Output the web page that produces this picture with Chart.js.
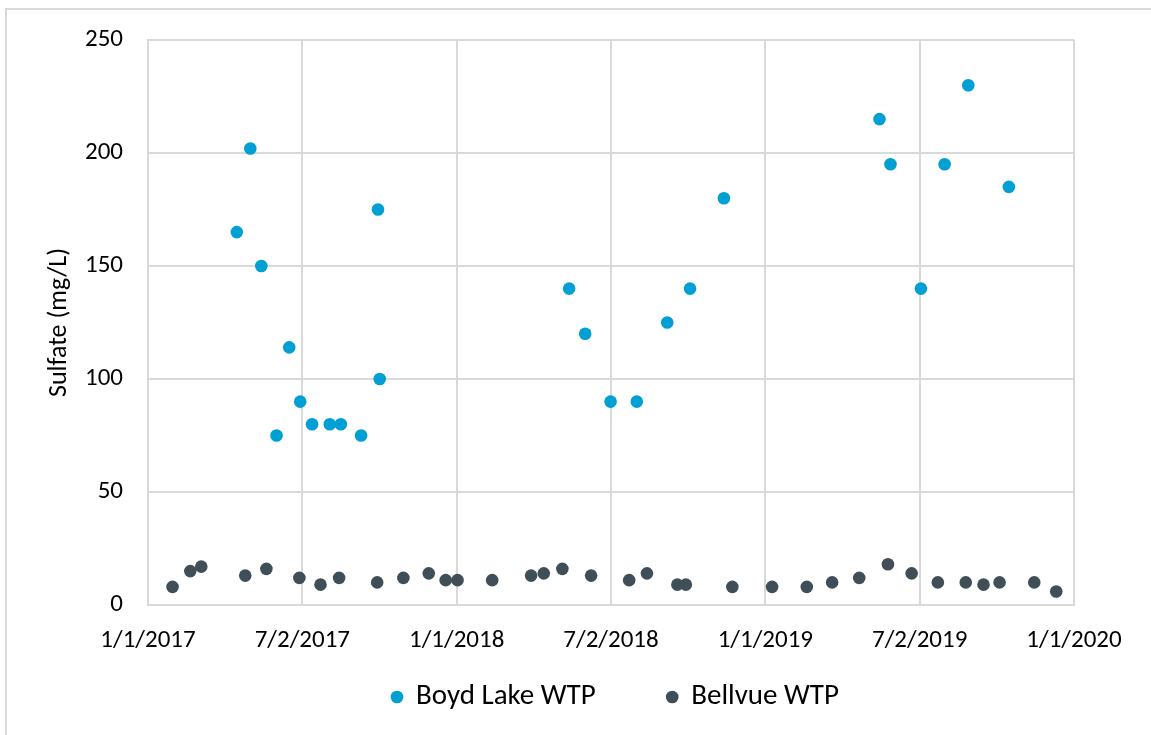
<!DOCTYPE html>
<html>
<head>
<meta charset="utf-8">
<script src="https://cdn.jsdelivr.net/npm/chart.js@4/dist/chart.umd.min.js"></script>
<style>
  html, body { margin: 0; padding: 0; background: #ffffff; overflow: hidden; }
  #frame { position: absolute; left: 5px; top: 8px; width: 1200px; height: 800px; border: 2px solid #d9d9d9; }
  #wrap { position: absolute; left: 0; top: 0; width: 1151px; height: 735px; }
</style>
</head>
<body>
<div id="frame"></div>
<div id="wrap"><canvas id="c" width="1151" height="735"></canvas></div>
<script>
// ---- Data ----
const seriesNames = ['Boyd Lake WTP', 'Bellvue WTP'];

const boydDates = [
  '2017-04-16','2017-05-02','2017-05-15','2017-06-02','2017-06-17','2017-06-30',
  '2017-07-14','2017-08-04','2017-08-17','2017-09-10','2017-09-30','2017-10-02',
  '2018-05-14','2018-06-02','2018-07-02','2018-08-02','2018-09-07','2018-10-04','2018-11-13',
  '2019-05-16','2019-05-29','2019-07-04','2019-08-01','2019-08-29','2019-10-16'
];
const boydValues = [
  165, 202, 150, 75, 114, 90,
  80, 80, 80, 75, 175, 100,
  140, 120, 90, 90, 125, 140, 180,
  215, 195, 140, 195, 230, 185
];

const bellvueDates = [
  '2017-01-30','2017-02-20','2017-03-05','2017-04-26','2017-05-21','2017-06-29',
  '2017-07-24','2017-08-15','2017-09-29','2017-10-30','2017-11-29','2017-12-19',
  '2018-01-02','2018-02-12','2018-03-30','2018-04-14','2018-05-06','2018-06-09',
  '2018-07-24','2018-08-14','2018-09-19','2018-09-29','2018-11-23',
  '2019-01-09','2019-02-19','2019-03-21','2019-04-22','2019-05-26','2019-06-23',
  '2019-07-24','2019-08-26','2019-09-16','2019-10-05','2019-11-15','2019-12-11'
];
const bellvueValues = [
  8, 15, 17, 13, 16, 12,
  9, 12, 10, 12, 14, 11,
  11, 11, 13, 14, 16, 13,
  11, 14, 9, 9, 8,
  8, 8, 10, 12, 18, 14,
  10, 10, 9, 10, 10, 6
];

const xTickLabels = ['1/1/2017','7/2/2017','1/1/2018','7/2/2018','1/1/2019','7/2/2019','1/1/2020'];
const yTickLabels = ['0','50','100','150','200','250'];
const yTitle = 'Sulfate (mg/L)';

// ---- Helpers ----
const DAY0 = Date.UTC(2017, 0, 1);
function dayOffset(s) {
  const p = s.split('-').map(Number);
  return (Date.UTC(p[0], p[1] - 1, p[2]) - DAY0) / 86400000;
}
function toPoints(dates, values) {
  return dates.map((d, i) => ({ x: dayOffset(d), y: values[i] }));
}

const FONT = 'Carlito, Lato, sans-serif';
const GRID = '#d9d9d9';
const LEG_PAD = 72;
const LEG_BOX = 9;

// Keeps the legend compact vertically and places its row like the original.
const legendPlacer = {
  id: 'legendPlacer',
  beforeLayout(chart) {
    const lg = chart.legend;
    if (lg && !lg._patched) {
      const origFit = lg.fit;
      lg.fit = function () { origFit.call(this); this.height = 60; };
      lg._patched = true;
    }
  },
  afterLayout(chart) {
    const lg = chart.legend;
    if (!lg || !lg.legendHitBoxes || !lg.legendHitBoxes.length) return;
    const itemH = lg.legendHitBoxes[0].height;
    const targetCenterY = 697;
    lg.top = targetCenterY - LEG_PAD - itemH / 2;
    lg.bottom = chart.height + 100;
    lg.height = lg.bottom - lg.top;
    const startX = (lg.left + LEG_PAD + lg.right - lg.lineWidths[0]) / 2;
    const targetStartX = 397 - LEG_BOX / 2;
    const dx = targetStartX - startX;
    lg.left += dx; lg.right += dx;
  }
};

new Chart(document.getElementById('c'), {
  type: 'scatter',
  data: {
    datasets: [
      {
        label: seriesNames[0],
        data: toPoints(boydDates, boydValues),
        backgroundColor: '#009fd4',
        borderColor: '#009fd4',
        pointRadius: 6.3,
        pointHoverRadius: 6.3,
        borderWidth: 0
      },
      {
        label: seriesNames[1],
        data: toPoints(bellvueDates, bellvueValues),
        backgroundColor: '#404e58',
        borderColor: '#404e58',
        pointRadius: 6.3,
        pointHoverRadius: 6.3,
        borderWidth: 0
      }
    ]
  },
  plugins: [legendPlacer],
  options: {
    responsive: false,
    animation: false,
    events: [],
    layout: { padding: { top: 39, right: 77, bottom: 0, left: 0 } },
    plugins: {
      tooltip: { enabled: false },
      legend: {
        position: 'bottom',
        labels: {
          usePointStyle: true,
          pointStyle: 'circle',
          boxWidth: LEG_BOX,
          boxHeight: LEG_BOX,
          padding: LEG_PAD,
          color: '#000000',
          font: { family: FONT, size: 29 }
        }
      }
    },
    scales: {
      x: {
        type: 'linear',
        min: 0,
        max: dayOffset('2020-01-01'),
        afterBuildTicks: (scale) => {
          const step = dayOffset('2020-01-01') / (xTickLabels.length - 1);
          scale.ticks = xTickLabels.map((l, i) => ({ value: i * step }));
        },
        afterFit: (scale) => { scale.height = 70; },
        ticks: {
          autoSkip: false,
          maxRotation: 0,
          minRotation: 0,
          padding: 21,
          color: '#000000',
          font: { family: FONT, size: 25 },
          callback: (v, i) => xTickLabels[i]
        },
        grid: { color: GRID, lineWidth: 2, drawTicks: false },
        border: { color: GRID, width: 2 }
      },
      y: {
        min: 0,
        max: 250,
        afterBuildTicks: (scale) => {
          scale.ticks = yTickLabels.map(l => ({ value: Number(l) }));
        },
        afterFit: (scale) => { scale.width = 148; },
        ticks: {
          padding: 25,
          color: '#000000',
          font: { family: FONT, size: 25 },
          callback: (v, i) => yTickLabels[i]
        },
        title: {
          display: true,
          text: yTitle,
          color: '#000000',
          font: { family: FONT, size: 26 },
          padding: { top: 44, bottom: 0 }
        },
        grid: { color: GRID, lineWidth: 2, drawTicks: false },
        border: { color: GRID, width: 2 }
      }
    }
  }
});
</script>
</body>
</html>
